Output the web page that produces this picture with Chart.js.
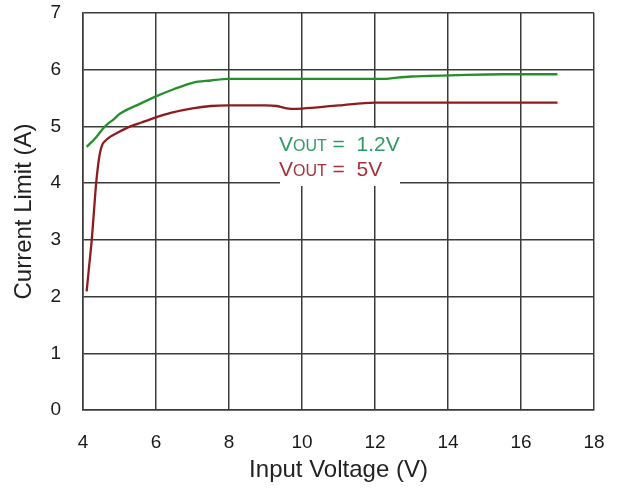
<!DOCTYPE html>
<html lang="en">
<head>
<meta charset="UTF-8">
<title>Current Limit vs Input Voltage</title>
<script src="https://cdn.jsdelivr.net/npm/chart.js"></script>
<style>
  html, body { margin: 0; padding: 0; background: #fff; }
  #wrap { width: 622px; height: 493px; }
</style>
</head>
<body>
<div id="wrap"><canvas id="limitChart" width="622" height="493"></canvas></div>

<script>
// Input voltage (V) and current limit (A), VOUT = 1.2V
const vin12 = [4.1, 4.35, 4.6, 4.85, 5.0, 5.5, 6.0, 6.5, 7.0, 7.5, 8.0, 9.0, 10.0, 11.0, 12.3, 12.6, 13.0, 13.5, 14.5, 15.5, 17.0];
const ilim12 = [4.64, 4.80, 5.00, 5.13, 5.22, 5.38, 5.53, 5.66, 5.77, 5.81, 5.84, 5.84, 5.84, 5.84, 5.84, 5.86, 5.88, 5.89, 5.91, 5.92, 5.92];

// VOUT = 5V
const vin5 = [4.1, 4.17, 4.24, 4.3, 4.36, 4.42, 4.47, 4.53, 4.6, 4.75, 4.92, 5.3, 5.6, 6.0, 6.4, 7.0, 7.5, 8.0, 9.0, 9.3, 9.5, 9.7, 10.0, 11.0, 12.0, 13.0, 17.0];
const ilim5 = [2.09, 2.55, 3.0, 3.5, 4.0, 4.35, 4.55, 4.68, 4.74, 4.82, 4.88, 5.0, 5.07, 5.16, 5.24, 5.32, 5.36, 5.37, 5.37, 5.36, 5.33, 5.31, 5.315, 5.37, 5.42, 5.42, 5.42];

const xTicks = [4, 6, 8, 10, 12, 14, 16, 18];
const yTicks = [0, 1, 2, 3, 4, 5, 6, 7];

const seriesNames = ['1.2V', '5V'];
const lineColors = ['#24902c', '#8e1c1e'];
const textColors = ['#2f9a66', '#a8323c'];

function toPoints(xs, ys) {
  return xs.map((x, i) => ({ x: x, y: ys[i] }));
}

const GRID = '#3a3a3a';
const FONT = 'Liberation Sans, Arial, sans-serif';

// VOUT labels on a white box inside the plot
const voutLabels = {
  id: 'voutLabels',
  afterDraw(chart) {
    const c = chart.ctx;
    c.save();
    c.fillStyle = '#fff';
    c.fillRect(280, 128, 120, 58);
    const rows = [151, 176];
    seriesNames.forEach((name, i) => {
      let x = 279;
      const y = rows[i];
      c.fillStyle = textColors[i];
      c.textBaseline = 'alphabetic';
      c.font = '21px ' + FONT;
      c.fillText('V', x, y);
      x += c.measureText('V').width;
      c.font = '16px ' + FONT;
      c.fillText('OUT', x, y);
      x += c.measureText('OUT').width;
      c.font = '21px ' + FONT;
      c.fillText(' =  ' + name, x, y);
    });
    c.restore();
  }
};

new Chart(document.getElementById('limitChart'), {
  type: 'line',
  data: {
    datasets: [
      { label: 'VOUT = 1.2V', data: toPoints(vin12, ilim12), borderColor: lineColors[0] },
      { label: 'VOUT = 5V', data: toPoints(vin5, ilim5), borderColor: lineColors[1] }
    ]
  },
  options: {
    responsive: false,
    animation: false,
    layout: { padding: { top: 13, right: 28, left: 0, bottom: 0 } },
    elements: {
      point: { radius: 0 },
      line: { borderWidth: 2.3, fill: false, cubicInterpolationMode: 'monotone' }
    },
    plugins: {
      legend: { display: false },
      tooltip: { enabled: false }
    },
    scales: {
      x: {
        type: 'linear',
        min: 4,
        max: 18,
        afterFit(s) { s.height = 83; s.paddingLeft = 0; s.paddingRight = 0; },
        afterBuildTicks(s) { s.ticks = xTicks.map(v => ({ value: v })); },
        grid: { color: GRID, lineWidth: 1.5, drawTicks: false },
        border: { color: GRID, width: 1.5 },
        ticks: { color: '#1a1a1a', font: { family: FONT, size: 19 }, padding: 21 },
        title: {
          display: true,
          text: 'Input Voltage (V)',
          color: '#222',
          font: { family: FONT, size: 24 },
          padding: { top: 0, bottom: 8 }
        }
      },
      y: {
        min: 0,
        max: 7,
        // keep the tick label padding from pushing the plot top down
        afterFit(s) { s.width = 83; s.paddingTop = 0; s.paddingBottom = 0; },
        afterBuildTicks(s) { s.ticks = yTicks.map(v => ({ value: v })); },
        grid: { color: GRID, lineWidth: 1.5, drawTicks: false },
        border: { color: GRID, width: 1.5 },
        ticks: { color: '#1a1a1a', font: { family: FONT, size: 19 }, padding: 22 },
        title: {
          display: true,
          text: 'Current Limit (A)',
          color: '#222',
          font: { family: FONT, size: 24 },
          padding: { top: 10, bottom: 0 }
        }
      }
    }
  },
  plugins: [voutLabels]
});
</script>
</body>
</html>
